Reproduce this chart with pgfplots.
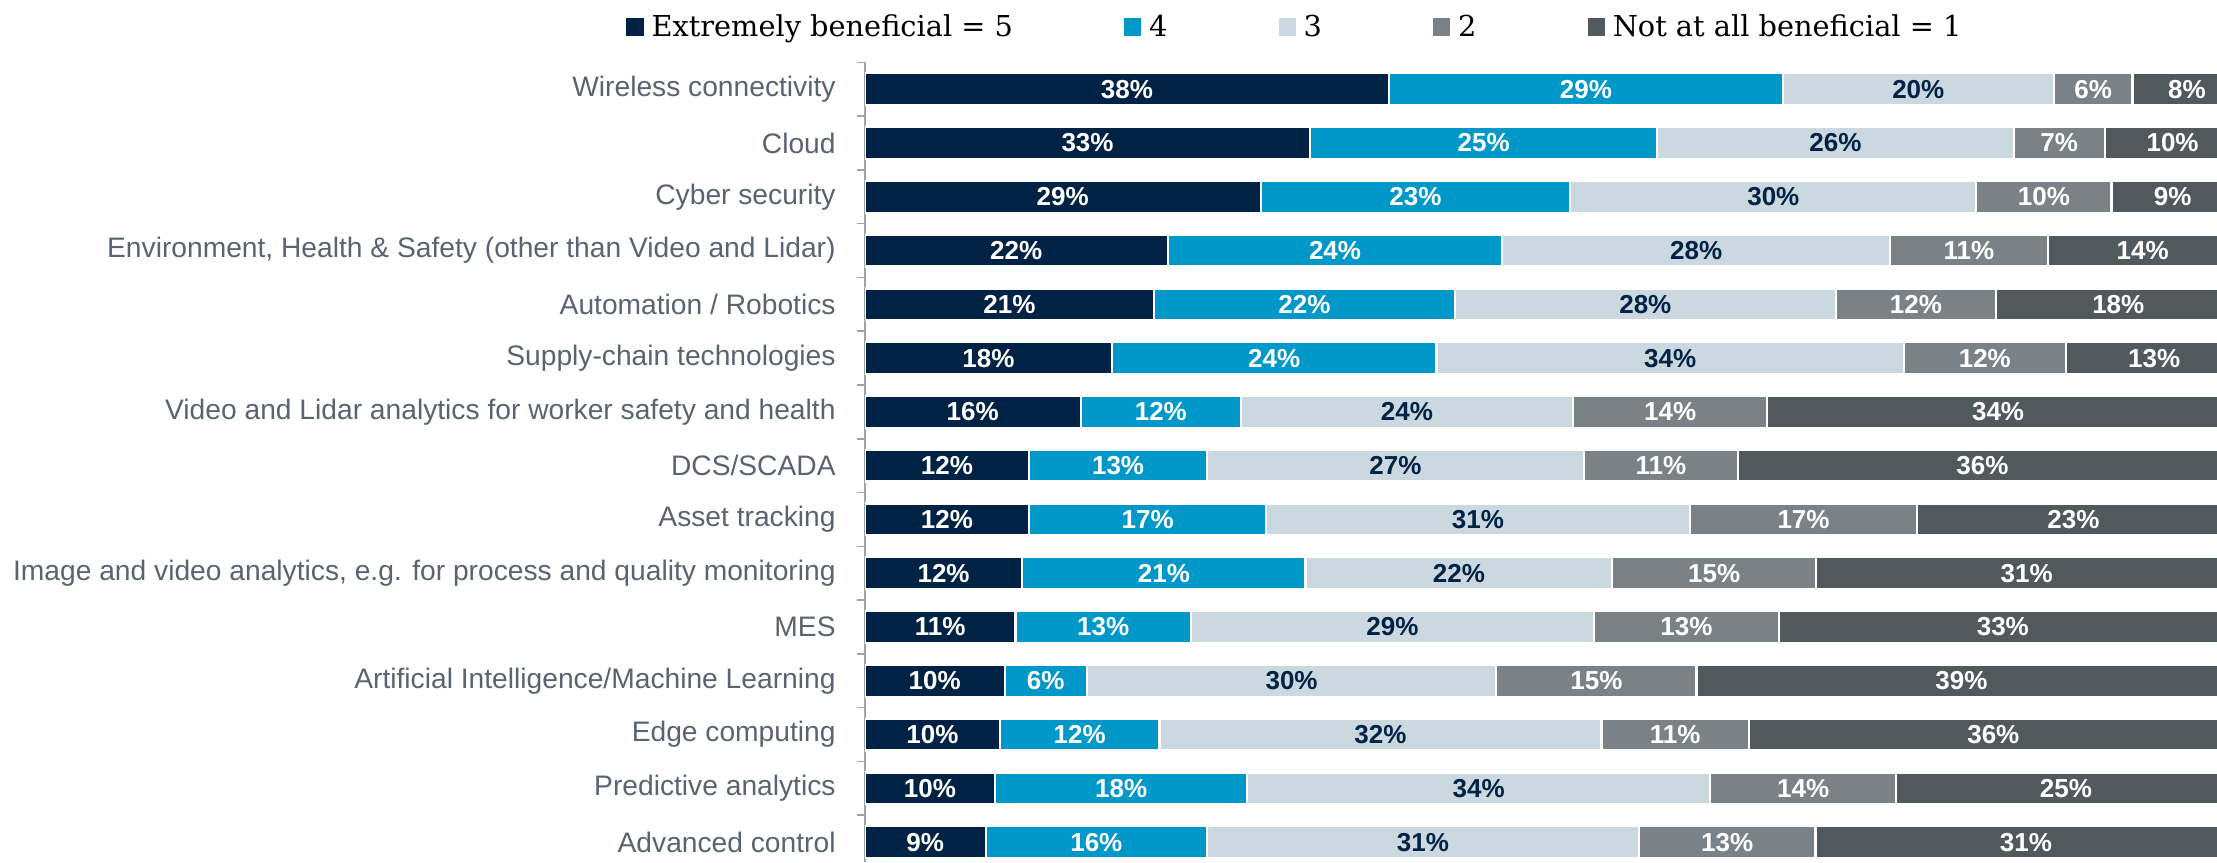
\documentclass[border=0pt]{standalone}
\usepackage{pgfplots}
\usepackage{pgfplotstable}
\pgfplotsset{compat=1.18}
\usepackage{fontspec}
\setmainfont{Liberation Sans}
\newfontfamily\legfont{DejaVu Serif}
\definecolor{c5}{HTML}{002244}
\definecolor{c4}{HTML}{0098C8}
\definecolor{c3}{HTML}{CBD8DF}
\definecolor{c2}{HTML}{7A8288}
\definecolor{c1}{HTML}{52595C}
\definecolor{labgray}{HTML}{5B6370}
\definecolor{axgray}{HTML}{A0A4A8}

% y = category index (0 = top); a..e = bar lengths (5 ... 1); la..le = printed labels
\pgfplotstableread{
y a b c d e la lb lc ld le
0 38.6 29.0 19.95 5.8 8 38 29 20 6 8
1 32.8 25.55 26.25 6.7 10 33 25 26 7 10
2 29.15 22.8 29.9 9.95 9 29 23 30 10 9
3 22.3 24.65 28.55 11.6 14 22 24 28 11 14
4 21.3 22.15 28.05 11.8 18 21 22 28 12 18
5 18.2 23.9 34.4 11.95 13 18 24 34 12 13
6 15.9 11.8 24.45 14.3 34 16 12 24 14 34
7 12.1 13.1 27.75 11.35 36 12 13 27 11 36
8 12.1 17.45 31.2 16.75 23 12 17 31 17 23
9 11.6 20.85 22.6 15.0 31 12 21 22 15 31
10 11.1 12.9 29.7 13.6 33 11 13 29 13 33
11 10.3 6.05 30.15 14.75 39 10 6 30 15 39
12 9.95 11.75 32.55 10.85 36 10 12 32 11 36
13 9.6 18.55 34.1 13.7 25 10 18 34 14 25
14 8.9 16.3 31.8 13.0 31 9 16 31 13 31
}\data
\pgfplotstablecreatecol[create col/expr={\thisrow{a}/2}]{ca}\data
\pgfplotstablecreatecol[create col/expr={\thisrow{a}+\thisrow{b}/2}]{cb}\data
\pgfplotstablecreatecol[create col/expr={\thisrow{a}+\thisrow{b}+\thisrow{c}/2}]{cc}\data
\pgfplotstablecreatecol[create col/expr={\thisrow{a}+\thisrow{b}+\thisrow{c}+\thisrow{d}/2}]{cd}\data
\pgfplotstablecreatecol[create col/expr={\thisrow{a}+\thisrow{b}+\thisrow{c}+\thisrow{d}+\thisrow{e}/2}]{ce}\data

\pgfplotsset{
  common/.style={
    at={(0pt,0pt)}, anchor=south west,
    scale only axis,
    width=676.1pt, height=400pt,
    xmin=0, xmax=99.57,
    ymin=-0.5, ymax=14.376,
    y dir=reverse,
  },
  lab/.style={draw=none, mark=none, point meta=explicit symbolic,
    nodes near coords={\pgfplotspointmeta\%},
    every node near coord/.append style={anchor=center, text=#1,
      font=\bfseries\fontsize{13}{15}\selectfont}},
  bars/.style={fill=#1, draw=white, line width=1.1pt,
    legend image code/.code={\fill[#1] (0pt,-3.75pt) rectangle (7.5pt,3.75pt);}},
}

\begin{document}
\begin{tikzpicture}
\begin{axis}[
  common,
  xbar stacked,
  bar width=15.9pt,
  axis x line=none,
  axis y line*=left,
  y axis line style={axgray, line width=0.8pt},
  ytick={0,...,14},
  yticklabels={Wireless connectivity, Cloud, Cyber security,
    {Environment, Health \& Safety (other than Video and Lidar)},
    Automation / Robotics, Supply-chain technologies,
    Video and Lidar analytics for worker safety and health,
    DCS/SCADA, Asset tracking,
    {Image and video analytics, e.g. for process and quality monitoring},
    MES, Artificial Intelligence/Machine Learning, Edge computing,
    Predictive analytics, Advanced control},
  minor ytick={-0.5,0.5,...,13.5},
  tick align=outside,
  major tick length=0pt,
  minor tick length=4pt,
  minor tick style={axgray, line width=0.8pt},
  yticklabel style={font=\fontsize{14.1}{16}\selectfont, text=labgray, inner sep=0pt, xshift=-14.4pt},
  legend columns=5,
  legend style={draw=none, fill=none, inner sep=0pt, at={(axis description cs:-0.1766,1.0441)}, anchor=west,
    font=\legfont\fontsize{14.4}{16}\selectfont, nodes={inner sep=0pt},
    /tikz/every odd column/.append style={column sep=4pt},
    /tikz/every even column/.append style={column sep=55.5pt}},
]
\addplot[bars=c5] table[x=a, y=y] {\data};
\addplot[bars=c4] table[x=b, y=y] {\data};
\addplot[bars=c3] table[x=c, y=y] {\data};
\addplot[bars=c2] table[x=d, y=y] {\data};
\addplot[bars=c1] table[x=e, y=y] {\data};
\legend{Extremely beneficial = 5, 4, 3, 2, Not at all beneficial = 1}
\end{axis}
\begin{axis}[common, axis lines=none, clip=false]
\addplot[lab=white] table[x=ca, y=y, meta=la] {\data};
\addplot[lab=white] table[x=cb, y=y, meta=lb] {\data};
\addplot[lab=c5] table[x=cc, y=y, meta=lc] {\data};
\addplot[lab=white] table[x=cd, y=y, meta=ld] {\data};
\addplot[lab=white] table[x=ce, y=y, meta=le] {\data};
\end{axis}
\pgfresetboundingbox
\useasboundingbox (-432.4pt,0pt) rectangle (676.1pt,431.15pt);
\end{tikzpicture}
\end{document}
